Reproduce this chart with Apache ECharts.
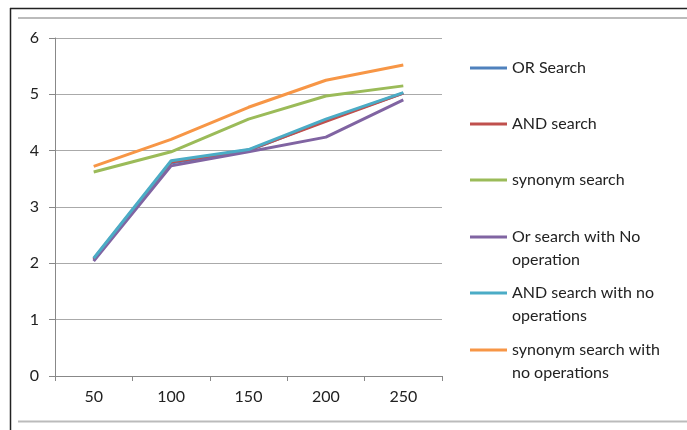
<!DOCTYPE html>
<html>
<head>
<meta charset="utf-8">
<script src="https://cdn.jsdelivr.net/npm/echarts@6/dist/echarts.min.js"></script>
<style>
  html, body { margin: 0; padding: 0; background: #fff; }
  #chart { width: 687px; height: 430px; }
</style>
</head>
<body>
<div id="chart"></div>
<script>
// x categories
const categories = ['50', '100', '150', '200', '250'];

// series names, legend order
const seriesNames = [
  'OR Search',
  'AND search',
  'synonym search',
  'Or search with No\noperation',
  'AND search with no\noperations',
  'synonym search with\nno operations'
];

// values
const orSearch = [2.06, 3.78, 4.0, 4.54, 5.02];
const andSearch = [2.08, 3.8, 4.01, 4.52, 5.02];
const synonymSearch = [3.62, 3.98, 4.56, 4.97, 5.15];
const orNoOp = [2.04, 3.73, 3.98, 4.24, 4.9];
const andNoOp = [2.09, 3.82, 4.02, 4.56, 5.03];
const synonymNoOp = [3.72, 4.2, 4.77, 5.25, 5.52];

const colors = ['#4F81BD', '#C0504D', '#9BBB59', '#8064A2', '#4BACC6', '#F79646'];
const allData = [orSearch, andSearch, synonymSearch, orNoOp, andNoOp, synonymNoOp];

const font = 'Lato';
const lineH = 23;
// legend icon centres (y)
const legendY = [68, 124, 180, 237, 293, 350];

let chart = echarts.init(document.getElementById('chart'));

// one legend per entry so each can sit where the reference puts it;
// two-line names get an empty first line so the icon lines up with the first real line
let legends = seriesNames.map((name, i) => {
  let twoLines = name.indexOf('\n') >= 0;
  return {
    orient: 'vertical',
    left: 470,
    top: twoLines ? legendY[i] - lineH * 1.5 : legendY[i] - lineH / 2,
    icon: 'rect',
    itemWidth: 37,
    itemHeight: 3,
    padding: 0,
    data: [name],
    formatter: n => (twoLines ? '\n' + n : n),
    textStyle: {
      fontFamily: font,
      fontSize: 16,
      lineHeight: lineH,
      color: '#222'
    }
  };
});

let option = {
  animation: false,
  color: colors,
  grid: {
    left: 55,
    right: 245,
    top: 38,
    bottom: 54
  },
  legend: legends,
  xAxis: {
    type: 'category',
    data: categories,
    boundaryGap: true,
    axisLine: { lineStyle: { color: '#888', width: 1 } },
    axisTick: { show: true, length: 5, lineStyle: { color: '#888' } },
    axisLabel: {
      margin: 13,
      fontFamily: font,
      fontSize: 16,
      color: '#222'
    }
  },
  yAxis: {
    type: 'value',
    min: 0,
    max: 6,
    interval: 1,
    axisLine: { show: true, lineStyle: { color: '#888', width: 1 } },
    axisTick: { show: true, length: 6, lineStyle: { color: '#888' } },
    splitLine: { lineStyle: { color: '#aaa', width: 1 } },
    axisLabel: {
      margin: 16,
      fontFamily: font,
      fontSize: 16,
      color: '#222'
    }
  },
  series: seriesNames.map((name, i) => ({
    name: name,
    type: 'line',
    data: allData[i],
    symbol: 'none',
    lineStyle: { width: 3, color: colors[i] },
    itemStyle: { color: colors[i] }
  })),
  graphic: [
    // page edges visible in the reference crop
    { type: 'line', shape: { x1: 10.5, y1: 8, x2: 10.5, y2: 430 }, style: { stroke: '#222', lineWidth: 1.5 } },
    { type: 'line', shape: { x1: 10, y1: 8.5, x2: 687, y2: 8.5 }, style: { stroke: '#222', lineWidth: 1.5 } },
    { type: 'line', shape: { x1: 18, y1: 18, x2: 687, y2: 18 }, style: { stroke: '#bbb', lineWidth: 2 } },
    { type: 'line', shape: { x1: 18, y1: 421.5, x2: 687, y2: 421.5 }, style: { stroke: '#bbb', lineWidth: 2 } }
  ]
};

chart.setOption(option);
</script>
</body>
</html>
